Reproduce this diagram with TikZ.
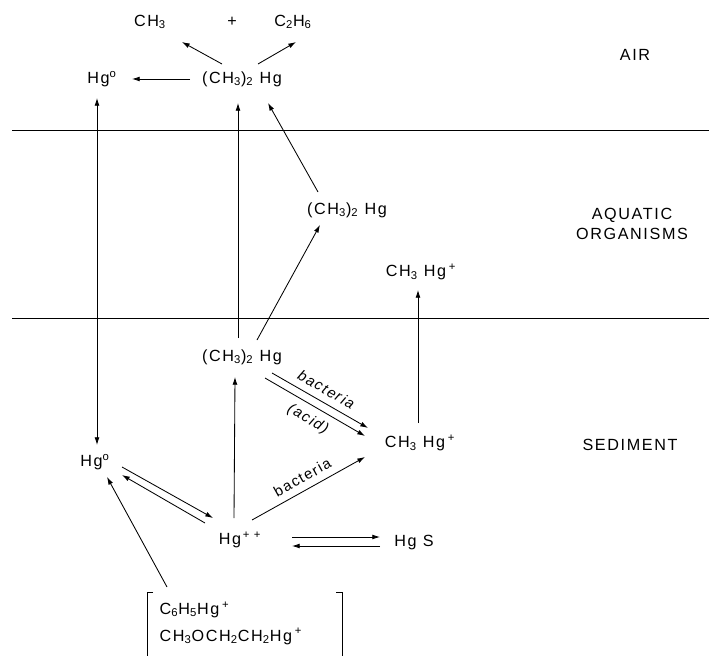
\documentclass[tikz,border=0pt]{standalone}
\usepackage{fontspec}
\setmainfont{Liberation Sans}[LetterSpace=10]
\usetikzlibrary{positioning, arrows.meta, calc}

\begin{document}
\begin{tikzpicture}[x=0.025cm, y=-0.025cm,
	every node/.style={font=\fontsize{11.5}{14}\selectfont, inner sep=1pt},
	arr/.style={-{Latex[length=5.5pt, width=3.5pt]}, line width=0.6pt},
	both/.style={{Latex[length=5.5pt, width=3.5pt]}-{Latex[length=5.5pt, width=3.5pt]}, line width=0.6pt},
	agent/.style={font=\fontsize{10.5}{12}\selectfont, sloped, inner sep=5pt}]
	\useasboundingbox (0,0) rectangle (709,656);
	% ---- layer boundaries ----
	\foreach \y in {130, 318}{
		\draw[line width=0.6pt] (12,\y) -- (709,\y);
	}
	\node (lblair) at (635,55) {AIR};
	\node[align=center] (lblaq) at (632,224) {AQUATIC\\ORGANISMS};
	\node (lblsed) at (630,445) {SEDIMENT};
	% ---- air ----
	\node (airch) at (150,22) {CH\textsubscript{3}};
	\node (plus) at (232,22) {+};
	\node (airethane) at (293,22) {C\textsubscript{2}H\textsubscript{6}};
	\node (airdmhg) at (242,79) {(CH\textsubscript{3})\textsubscript{2} Hg};
	\node (airhg) at (102,79) {Hg\textsuperscript{o}};
	\draw[arr] ($(airdmhg)+(-20,-15)$) -- ($(airch)+(32,20)$);
	\draw[arr] ($(airdmhg)+(16,-15)$) -- ($(airethane)+(3,20)$);
	\draw[arr] ($(airdmhg)+(-52,0)$) -- ($(airhg)+(30,0)$);
	% ---- aquatic organisms ----
	\node (aqdmhg) at (347,210) {(CH\textsubscript{3})\textsubscript{2} Hg};
	\node (aqmhg) at (421,272) {CH\textsubscript{3} Hg\,\textsuperscript{+}};
	\draw[arr] ($(aqdmhg)+(-29,-18)$) -- ($(airdmhg)+(26,24)$);
	% ---- sediment ----
	\node (seddmhg) at (242,357) {(CH\textsubscript{3})\textsubscript{2} Hg};
	\node (sedmhg) at (420,443) {CH\textsubscript{3} Hg\,\textsuperscript{+}};
	\node (sedhg) at (95,462) {Hg\textsuperscript{o}};
	\node (hgii) at (240,540) {Hg\textsuperscript{\,+ +}};
	\node (hgs) at (414,543) {Hg S};
	\node[anchor=west, align=left, font=\fontsize{11.5}{19}\selectfont] (organo) at (158,623)
		{C\textsubscript{6}H\textsubscript{5}Hg\,\textsuperscript{+}\\CH\textsubscript{3}OCH\textsubscript{2}CH\textsubscript{2}Hg\,\textsuperscript{+}};
	\draw[line width=0.6pt] (153,592) -- (147,592) -- (147,660);
	\draw[line width=0.6pt] (336,592) -- (342,592) -- (342,660);
	\draw[arr] ($(seddmhg)+(-4,-19)$) -- ($(airdmhg)+(-4,24)$);
	\draw[arr] ($(seddmhg)+(15,-17)$) -- ($(aqdmhg)+(-27,15)$);
	\draw[arr] ($(sedmhg)+(-2,-20)$) -- ($(aqmhg)+(-3,18)$);
	\draw[both] ($(airhg)+(-5,19)$) -- ($(sedhg)+(2,-17)$);
	\draw[<-, arr] ($(seddmhg)+(30,16)$) -- node[agent, above] {\itshape bacteria} ($(sedmhg)+(-52,-15)$);
	\draw[arr] ($(seddmhg)+(23,21)$) -- node[agent, below] {\itshape (acid)} ($(sedmhg)+(-55,-7)$);
	\draw[arr] ($(hgii)+(12,-20)$) -- node[agent, above] {bacteria} ($(sedmhg)+(-55,14)$);
	\draw[arr] ($(hgii)+(-6,-22)$) -- ($(seddmhg)+(-7,20)$);
	\draw[arr] ($(sedhg)+(27,5)$) -- ($(hgii)+(-27,-22)$);
	\draw[arr] ($(hgii)+(-35,-17)$) -- ($(sedhg)+(27,13)$);
	\draw[arr] ($(hgii)+(52,-3)$) -- ($(hgs)+(-34,-6)$);
	\draw[arr] ($(hgs)+(-34,3)$) -- ($(hgii)+(52,6)$);
	\draw[arr] ($(organo.west)+(9,-36)$) -- ($(sedhg)+(12,15)$);
\end{tikzpicture}
\end{document}
